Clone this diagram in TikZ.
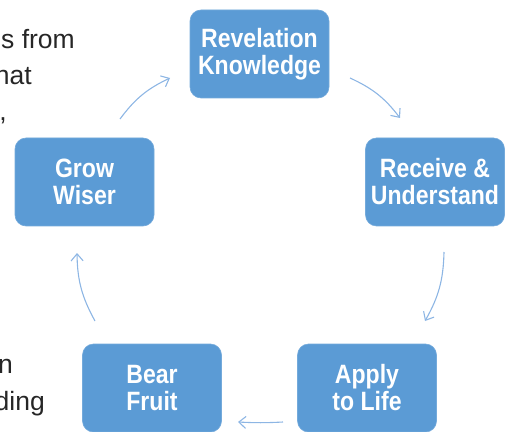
\documentclass[tikz,border=0pt]{standalone}
\usepackage{fontspec}
\setmainfont{Liberation Sans}
\newfontfamily\boxfont[FakeStretch=0.87]{Liberation Sans}
\usetikzlibrary{arrows.meta}
\definecolor{boxblue}{RGB}{91,155,213}
\definecolor{arrowblue}{RGB}{141,182,228}
\definecolor{txtgray}{RGB}{38,38,38}
\tikzset{
  stepbox/.style={fill=boxblue, draw=boxblue!85!white, line width=0.6pt, rounded corners=11pt,
    minimum width=139pt, minimum height=88pt, inner sep=0pt, align=center,
    text=white, font=\boxfont\bfseries\fontsize{26.5}{27}\selectfont},
  cyc/.style={draw=arrowblue, line width=1.1pt, -{Straight Barb[length=7pt,width=12pt]}},
  sidetext/.style={text=txtgray, font=\fontsize{26.5}{30}\selectfont, inner sep=0pt}
}
\begin{document}
\begin{tikzpicture}[x=1pt,y=1pt]
\useasboundingbox (0,0) rectangle (510,431);
\clip (0,0) rectangle (510,431);
% partial side text
\node[sidetext, anchor=base east] (t1) at (75,382) {s from};
\node[sidetext, anchor=base east] (t2) at (32,346) {hat};
\node[sidetext, anchor=base east] (t3) at (7,310) {,};
\node[sidetext, anchor=base east] (t4) at (13,58) {n};
\node[sidetext, anchor=base east] (t5) at (45,21) {ding};
% boxes
\node[stepbox] (rev) at (259.5,377) {Revelation\\Knowledge};
\node[stepbox] (rec) at (435,249) {Receive \&\\Understand};
\node[stepbox] (app) at (367,43) {Apply\\to Life};
\node[stepbox] (bear) at (152,43) {Bear\\Fruit};
\node[stepbox] (grow) at (84.5,249) {Grow\\Wiser};
% arrow ends
\coordinate (a1s) at (120,312); \coordinate (a1e) at (170,353);
\coordinate (a2s) at (350,353); \coordinate (a2e) at (400,313);
\coordinate (a3s) at (444,179); \coordinate (a3e) at (425,110);
\coordinate (a4s) at (283,9);   \coordinate (a4e) at (238,9);
\coordinate (a5s) at (95,110);  \coordinate (a5e) at (77,178);
\draw[cyc] (a1s) to[bend left=14] (a1e);
\draw[cyc] (a2s) to[bend left=14] (a2e);
\draw[cyc] (a3s) to[bend left=14] (a3e);
\draw[cyc] (a4s) to[bend left=3] (a4e);
\draw[cyc] (a5s) to[bend left=14] (a5e);
\end{tikzpicture}
\end{document}
